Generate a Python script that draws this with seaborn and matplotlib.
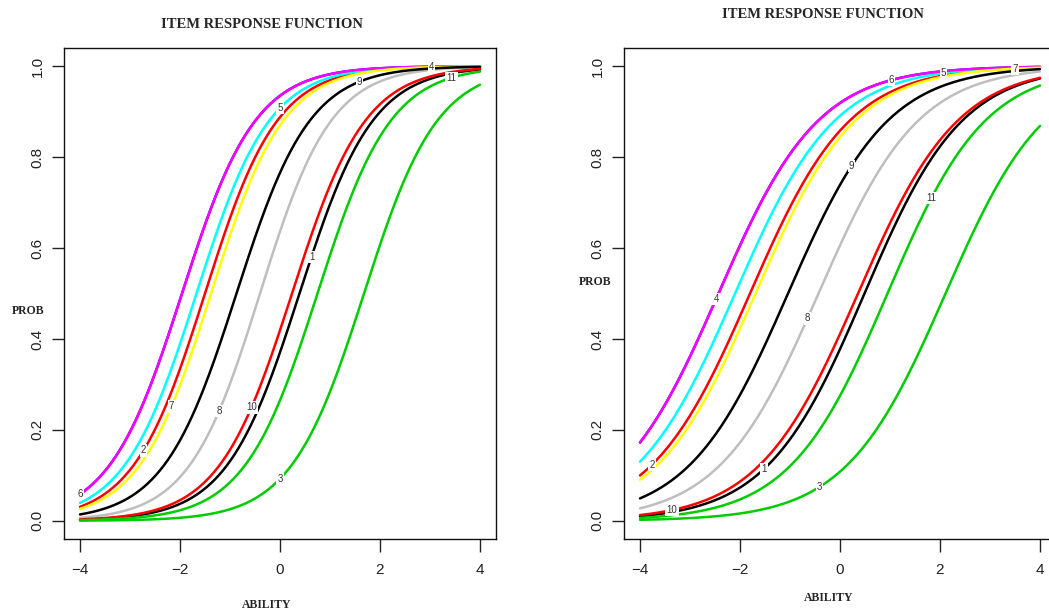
import numpy as np
import pandas as pd
import matplotlib
matplotlib.use("Agg")
import matplotlib.pyplot as plt
import seaborn as sns

# ---------------- data ----------------
items = ["1", "2", "3", "4", "5", "6", "7", "8", "9", "10", "11"]
item_colors = ["#000000", "#FF0000", "#00CD00", "#0000FF", "#00FFFF", "#FF00FF",
               "#FFFF00", "#BEBEBE", "#000000", "#FF0000", "#00CD00"]

left_discrimination = [1.36, 1.38, 1.36, 1.36, 1.37, 1.36, 1.38, 1.40, 1.36, 1.36, 1.36]
left_difficulty = [0.39, -1.50, 1.68, -1.96, -1.67, -1.96, -1.38, -0.40, -0.87, 0.24, 0.75]
left_label_x = [0.63, -2.73, 0.0, 3.03, 0.0, -4.0, -2.17, -1.22, 1.59, -0.57, 3.43]

right_discrimination = [1.02, 1.00, 1.00, 1.00, 1.00, 1.00, 1.00, 1.00, 1.00, 1.00, 1.02]
right_difficulty = [0.49, -1.80, 2.11, -2.43, -2.10, -2.43, -1.69, -0.43, -1.04, 0.36, 0.95]
right_label_x = [-1.52, -3.76, -0.41, -2.48, 2.07, 1.03, 3.50, -0.65, 0.23, -3.36, 1.83]

ability_ticks = [-4, -2, 0, 2, 4]
prob_ticks = [0.0, 0.2, 0.4, 0.6, 0.8, 1.0]
prob_tick_labels = ["0.0", "0.2", "0.4", "0.6", "0.8", "1.0"]

title_text = "ITEM RESPONSE FUNCTION"
xlabel_text = "ABILITY"
ylabel_text = "PROB"

# ---------------- styling ----------------
sns.set_theme(style="ticks")
plt.rcParams["font.family"] = ["Liberation Sans", "DejaVu Sans"]
plt.rcParams["axes.linewidth"] = 1.0

W, H = 1049, 614
fig = plt.figure(figsize=(W / 100, H / 100), dpi=100)
fig.patch.set_facecolor("white")


def irf(theta, a, b):
    return 1.0 / (1.0 + np.exp(-a * (theta - b)))


theta = np.linspace(-4, 4, 301)
palette = dict(zip(items, item_colors))


def panel(rect, disc, diff, lab_x):
    ax = fig.add_axes(rect)
    frames = []
    for it, a, b in zip(items, disc, diff):
        frames.append(pd.DataFrame({"ability": theta, "prob": irf(theta, a, b), "item": it}))
    df = pd.concat(frames, ignore_index=True)
    sns.lineplot(data=df, x="ability", y="prob", hue="item", hue_order=items,
                 palette=palette, linewidth=1.8, legend=False, ax=ax,
                 estimator=None, sort=False)
    for it, a, b, lx in zip(items, disc, diff, lab_x):
        ly = irf(lx, a, b)
        ax.text(lx, ly, it, fontsize=7, color="#333333", ha="center", va="center",
                family="Liberation Sans", zorder=10,
                bbox=dict(boxstyle="square,pad=0.12", fc="white", ec="none"))
    ax.set_xlim(-4.32, 4.32)
    ax.set_ylim(-0.04, 1.04)
    ax.set_xticks(ability_ticks)
    ax.set_xticklabels([("\u2212" + str(abs(t))) if t < 0 else str(t) for t in ability_ticks])
    ax.set_yticks(prob_ticks)
    ax.set_yticklabels(prob_tick_labels, rotation=90, va="center")
    ax.tick_params(axis="both", length=9, width=1.0, colors="#222222", labelsize=11)
    ax.tick_params(axis="x", pad=8)
    ax.tick_params(axis="y", pad=5)
    ax.set_xlabel("")
    ax.set_ylabel("")
    for s in ax.spines.values():
        s.set_visible(True)
        s.set_color("#111111")
        s.set_linewidth(1.0)
    ax.set_facecolor("white")
    return ax


def fx(px):
    return px / W


def fy(py):
    return 1 - py / H


axw = 432 / W
axh = 491 / H
panel([fx(64), fy(539), axw, axh], left_discrimination, left_difficulty, left_label_x)
panel([fx(624), fy(539), axw, axh], right_discrimination, right_difficulty, right_label_x)

serif = ["Liberation Serif", "DejaVu Serif"]
fig.text(fx(262), fy(25), title_text, ha="center", va="center", fontsize=10.5,
         fontweight="bold", family=serif)
fig.text(fx(823), fy(14), title_text, ha="center", va="center", fontsize=10.5,
         fontweight="bold", family=serif)
fig.text(fx(28), fy(311), ylabel_text, ha="center", va="center", fontsize=8.5,
         fontweight="bold", family=serif)
fig.text(fx(595), fy(282), ylabel_text, ha="center", va="center", fontsize=8.5,
         fontweight="bold", family=serif)
fig.text(fx(267), fy(605), xlabel_text, ha="center", va="center", fontsize=8.5,
         fontweight="bold", family=serif)
fig.text(fx(829), fy(598), xlabel_text, ha="center", va="center", fontsize=8.5,
         fontweight="bold", family=serif)

fig.savefig("out.png", dpi=100, facecolor="white")
